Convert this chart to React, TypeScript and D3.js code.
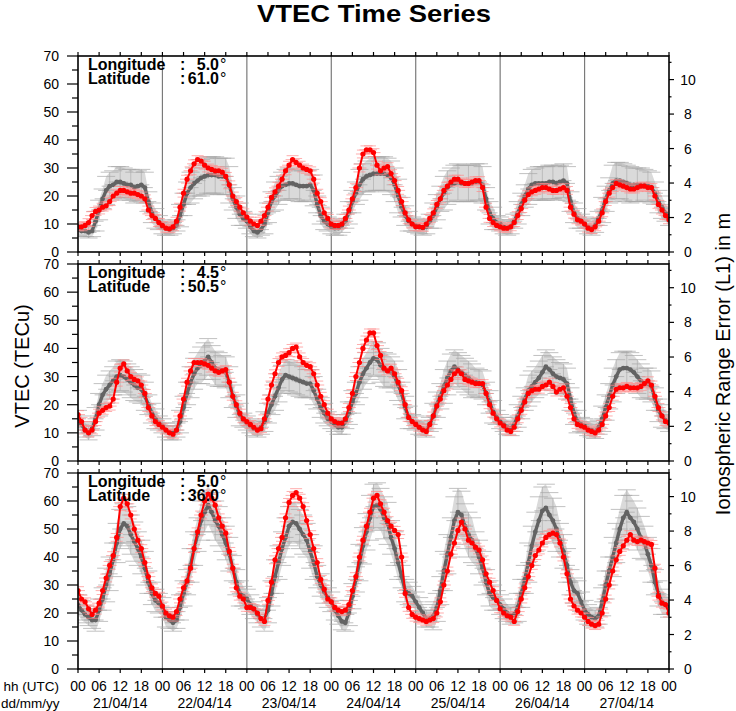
import React from "react";
import * as d3 from "d3";

// ---------- data (hourly, 21/04/14 00 UTC .. 28/04/14 00 UTC) ----------
const DAY_LABELS = ["21/04/14", "22/04/14", "23/04/14", "24/04/14", "25/04/14", "26/04/14", "27/04/14"];
const HOUR_LABELS = ["00", "06", "12", "18"];
const LONGITUDES = ["5.0", "4.5", "5.0"];
const LATITUDES = ["61.0", "50.5", "36.0"];
const LEFT_TICKS = [0, 10, 20, 30, 40, 50, 60, 70];
const RIGHT_TICKS = [0, 2, 4, 6, 8, 10];

// Panel 1 (lat 61.0) – gray: reference/median, red: actual
const G1 = [
  8, 7.5, 7.5, 7, 7.5, 11, 15, 19, 22, 23.5, 24, 25, 25, 24.5, 24, 24, 23, 23.5, 24, 23, 18, 14, 12, 10.5,
  9, 8.5, 8, 8.5, 9.5, 13, 17, 21, 23, 24.5, 25.5, 26.5, 27, 27.5, 27.5, 27.5, 27, 27, 27, 24, 19, 16, 13.5, 12,
  11, 9, 7.5, 7, 8, 10, 14, 18, 20, 22, 23.5, 24, 24.5, 24.5, 24, 23.5, 23.5, 23.5, 24, 22, 17, 13, 11, 10,
  9, 8.5, 8.5, 9.5, 11, 14, 18, 21, 24, 26, 27, 27.5, 28, 28, 28, 28, 27.5, 26.5, 24, 20, 16, 13, 11, 10,
  9.5, 9, 8.5, 9, 11, 13, 16, 19, 21, 23, 24, 24.5, 25, 24.5, 24.5, 24.5, 24.5, 25, 25, 24, 19, 14, 12, 10.5,
  10, 9, 8.5, 9, 11, 14, 17, 20, 22.5, 24, 24.5, 24.5, 24.5, 24.5, 25, 25, 24.5, 25, 25.5, 24.5, 18, 14, 12, 11,
  10, 9, 8.5, 9.5, 12, 15, 19, 22, 24.5, 25.5, 25.5, 25, 24.5, 24, 24, 24, 24, 24, 23.5, 23, 21, 18, 16, 14, 12.5,
];
const R1 = [
  9, 9, 9.5, 10.5, 13, 14.5, 15, 16, 16.5, 18, 20, 21, 22, 22, 21.5, 21, 21, 20.5, 20, 19, 15, 13, 12, 10.5,
  9.5, 8.5, 8.3, 9, 11, 16, 21, 26, 29, 31.5, 33, 32.5, 31, 30, 29.5, 29, 29, 28.5, 27, 24, 20, 18, 16, 14,
  12.5, 11, 10, 9.5, 11, 13, 16, 19.5, 21.5, 23.5, 26, 29, 31, 33, 32, 31, 30, 29.5, 29, 26, 21, 18, 14, 12,
  10, 9.5, 9.5, 10, 12, 15, 19, 23, 30, 35, 36.5, 36.5, 35.5, 31, 29, 30, 30.5, 28, 25.5, 22, 18, 14, 11.5, 10,
  9, 9, 8.8, 10, 12, 14, 17, 19, 22, 23.5, 25, 26, 26, 25, 24.5, 24.5, 25, 25.5, 25.5, 23, 16, 12, 10.5, 9.5,
  9, 8.5, 8.5, 9, 10.5, 13, 15.5, 18.5, 20.5, 21.5, 22, 22.5, 23, 23, 22.5, 22, 22, 22.5, 23, 22, 16, 13.5, 11.5, 11,
  10, 8.5, 8, 9, 11, 14, 18, 21, 23, 24.5, 24, 23.5, 23, 22.5, 22.5, 23, 23.5, 23.5, 23, 23, 20, 17, 15, 13, 11.5,
];
// gray error (1 sigma) every 3 hours
const E1 = [
  2, 2, 3.5, 5, 5.5, 5.5, 5.5, 3.5, 2.5, 2, 4, 5.5, 6.5, 6.5, 6.5, 4, 2.5, 2, 3.5, 5, 5.5, 5.5, 5.5, 3,
  2.5, 2.5, 4, 5.5, 6, 6, 6, 3.5, 2.5, 2.5, 4.5, 6, 6.5, 6.5, 6.5, 4, 2.5, 2.5, 4, 5.5, 6, 6, 6, 3.5,
  2.5, 2.5, 4.5, 6.5, 6.5, 6, 5.5, 4, 3,
];

// Panel 2 (lat 50.5)
const G2 = [
  15, 13, 11, 10, 11.5, 15, 20, 23.5, 25.5, 27, 28.5, 30, 30.5, 30, 29, 28, 27, 26, 25.5, 23, 20, 17, 15, 13.5,
  12.5, 11, 10, 10, 11, 14, 19, 24, 28, 31, 33, 34, 35.5, 37, 35, 33, 32.5, 32, 31.5, 28, 23, 19.5, 16.5, 14.5,
  13.5, 12.5, 11.5, 11, 12, 14, 17, 20, 23, 26, 29, 30.5, 30, 29.5, 29, 28.5, 28, 27.5, 27.5, 25, 22, 19, 17, 15,
  14, 13, 12, 12, 14, 17, 21, 24, 28, 31, 33, 35, 36.5, 36, 34, 32.5, 32, 31.5, 30, 27, 24, 19, 15.5, 14,
  13.5, 12, 11.5, 11, 13, 16, 20, 23, 26.5, 29.5, 32, 33.5, 32.5, 31.5, 30.5, 29.5, 28.5, 28, 27.5, 27, 24, 21, 17.5, 15.5,
  14, 13, 12, 11.5, 13, 16, 19, 22, 25, 26.5, 28, 29.5, 31.5, 33.5, 32.5, 31, 30, 29.5, 29, 27.5, 22, 17, 14, 13,
  12.5, 11.5, 11, 10.5, 12, 15, 19, 23, 27, 30, 32.5, 33, 33, 32.5, 31.5, 30, 28.5, 27.5, 27.5, 26.5, 22, 18, 16, 14.5, 13.5,
];
const R2 = [
  16.5, 14, 11, 10, 11, 14, 17, 18, 19, 19.5, 22, 28, 33, 34.5, 32, 30, 29, 28.5, 27, 24, 19, 16, 14, 13,
  12, 11, 10, 9.5, 11, 16, 22, 28, 32, 35, 35, 35, 34.5, 34, 33, 32, 31.5, 32, 32.5, 28, 23, 20, 17, 15,
  14, 13, 12, 11, 11.5, 15, 22, 27, 31, 35, 37, 37.5, 38.5, 40, 40.5, 37, 35, 34, 33.5, 31, 27, 23, 20, 17,
  15, 14, 13.5, 13.5, 15, 19, 24, 30, 35, 40, 43, 45.5, 45.5, 41, 37.5, 33, 32, 33, 31, 28, 25, 20, 15.5, 14,
  13, 12, 11, 10.5, 13, 16, 19.5, 22, 25, 27, 29, 31, 32, 31, 29, 28.5, 28, 27.5, 27.5, 27.5, 24, 20, 17, 15,
  13.5, 12.5, 11, 10.5, 12, 15, 18, 21, 24, 25, 25.5, 25.5, 26.5, 27, 28, 26.5, 24.5, 25.5, 26, 23, 19, 15, 13, 12.5,
  12, 11, 10.5, 10, 11, 13, 16, 19, 23, 25.5, 26, 26, 26.5, 26, 26, 26, 26.5, 27.5, 28.5, 27, 23, 19, 16, 14, 13.5,
];
const E2 = [
  3, 2.5, 4, 5, 5.5, 5.5, 5, 3.5, 2.5, 2.5, 4, 5.5, 6.5, 6, 5.5, 4, 2.5, 2.5, 3.5, 5, 5.5, 5.5, 5, 3.5,
  2.5, 2.5, 4, 5.5, 6, 6, 5.5, 4, 2.5, 2.5, 4.5, 6, 6, 6, 5, 4, 2.5, 2.5, 4, 5.5, 6, 6, 5.5, 4,
  2.5, 2.5, 4.5, 6, 6, 6, 5.5, 4, 3,
];

// Panel 3 (lat 36.0)
const G3 = [
  23, 21, 19.5, 18.5, 17.5, 17.5, 21, 25, 30, 34, 39, 45, 50, 52, 51, 48, 45.5, 43, 40, 36, 31, 27, 24.5, 23.5,
  22, 18.5, 17.5, 16.5, 17.5, 22, 27, 31, 37, 43, 48, 53, 56, 58.5, 56, 53, 51, 48, 45, 41, 36, 31, 27, 26,
  25, 23, 21, 19.5, 18, 18, 21, 27, 33, 38, 43, 47, 51, 52.5, 52, 50, 48, 46, 42, 38, 33, 30, 27.5, 25.5,
  24, 21, 19, 17, 16.5, 20, 26, 32, 38, 44, 49, 54, 58, 58.5, 57, 54, 52, 47, 43, 38, 33, 28, 27, 26,
  24, 22, 20, 18, 18, 19, 22, 28, 35, 41, 47, 53, 56, 55, 51, 48, 46, 43, 40, 36, 31, 27, 25.5, 24.5,
  23, 21.5, 20, 19, 19.5, 22, 27, 32, 38, 44, 49, 53, 56.5, 57.5, 55, 53, 50, 46, 42, 37, 31, 28, 27, 24,
  21, 19.5, 18.5, 18, 19, 24, 30, 35, 40, 45, 50, 54, 56, 54, 52.5, 50, 47, 45, 41, 37, 31, 27, 24, 23, 22,
];
const R3 = [
  28, 25, 24, 21.5, 19.5, 21, 23.5, 28, 32.5, 37, 40.5, 47, 58, 61, 59, 55, 50, 46, 43, 38, 33, 29, 27, 26,
  22.5, 20, 19, 18.5, 20.5, 25, 29, 31.5, 36, 43, 49, 55, 60, 62.5, 61, 58.5, 54, 51, 48.5, 42, 36, 29, 26, 25,
  22, 22, 21.5, 20, 18, 17, 24.5, 31, 39, 43, 47, 54, 59.5, 62, 63, 61, 58, 53, 48, 43, 38, 32, 28.5, 25,
  24, 22, 21, 20.5, 21, 23, 28, 33, 40, 46, 51, 56, 61, 62, 59, 56, 53, 51, 49.5, 48, 40, 27, 22, 19.5,
  18.5, 18, 17.5, 17, 17.5, 18, 20, 24, 30, 35, 41, 45, 49.5, 52.5, 50, 46, 45, 43.5, 42.5, 39, 34, 31, 28, 24.5,
  21.5, 20, 19, 18.5, 17, 20.5, 25, 29, 33, 37, 40.5, 42.5, 45, 47, 48, 48.5, 48, 45, 40, 34, 25, 22.5, 21, 20,
  18.5, 17, 16, 15.5, 16, 20, 25, 30, 35, 39, 42, 44, 46, 48, 46, 45.5, 46, 45.5, 45, 44.5, 36, 26, 23.5, 23, 20,
];
const E3 = [
  3.5, 3, 4, 6, 7, 7, 6, 4, 3.5, 3, 4.5, 6, 7, 7, 6, 4.5, 3.5, 3, 4.5, 6, 7, 7, 6, 4,
  3.5, 3, 4.5, 6.5, 8, 7.5, 6, 4, 3.5, 3, 5, 7, 8.5, 8, 6, 4.5, 3.5, 3, 5, 7, 8.5, 8, 6, 4.5,
  3.5, 3, 5, 7, 8, 7.5, 6, 4.5, 3.5,
];

const RED_ERR = 1.4; // TECU, size of the pink error marks
const TEC_TO_M = 0.1624; // L1 range error (m) per TECU
const VMAX = 70;

const FONT = "'Liberation Sans', Arial, Helvetica, sans-serif";

type Panel = {
  top: number;
  bottom: number;
  g: number[];
  r: number[];
  e: number[];
  lon: string;
  lat: string;
};

const PANELS: Panel[] = [
  { top: 56, bottom: 252, g: G1, r: R1, e: E1, lon: LONGITUDES[0], lat: LATITUDES[0] },
  { top: 264, bottom: 461, g: G2, r: R2, e: E2, lon: LONGITUDES[1], lat: LATITUDES[1] },
  { top: 473, bottom: 669, g: G3, r: R3, e: E3, lon: LONGITUDES[2], lat: LATITUDES[2] },
];

const X0 = 78;
const X1 = 669;

function PanelView({ p, idx }: { p: Panel; idx: number }) {
  const x = d3.scaleLinear().domain([0, 168]).range([X0, X1]);
  const y = d3.scaleLinear().domain([0, VMAX]).range([p.bottom, p.top]);
  const yr = d3.scaleLinear().domain([0, VMAX * TEC_TO_M]).range([p.bottom, p.top]);
  const err = (i: number) => p.e[Math.round(i / 3)];
  const pts = p.g.map((v, i) => ({ h: i, v, e: err(i) }));
  const rpts = p.r.map((v, i) => ({ h: i, v }));

  const band = d3
    .area<{ h: number; v: number; e: number }>()
    .x((d) => x(d.h))
    .y0((d) => y(d.v - d.e))
    .y1((d) => y(d.v + d.e));
  const gline = d3
    .line<{ h: number; v: number }>()
    .x((d) => x(d.h))
    .y((d) => y(d.v));

  const clipId = `clip${idx}`;
  const sixHours = d3.range(0, 169, 6);
  const leftMinor = d3.range(0, 71, 5);
  const rightMinor = d3.range(0, 12, 1).filter((v) => v <= VMAX * TEC_TO_M);

  return (
    <g>
      <defs>
        <clipPath id={clipId}>
          <rect x={X0} y={p.top} width={X1 - X0} height={p.bottom - p.top} />
        </clipPath>
      </defs>
      <rect x={X0} y={p.top} width={X1 - X0} height={p.bottom - p.top} fill="#fff" />
      <g clipPath={`url(#${clipId})`}>
        {/* day separators */}
        {d3.range(24, 168, 24).map((h) => (
          <line key={h} x1={x(h)} x2={x(h)} y1={p.top} y2={p.bottom} stroke="#7a7a7a" strokeWidth={1.2} />
        ))}
        {/* gray error band */}
        <path d={band(pts) || ""} fill="#dadada" />
        {pts
          .filter((d) => d.h % 3 === 0)
          .map((d) => (
            <line key={"v" + d.h} x1={x(d.h)} x2={x(d.h)} y1={y(d.v - d.e)} y2={y(d.v + d.e)} stroke="#b4b4b4" strokeWidth={0.8} />
          ))}
        {pts.map((d) => (
          <g key={"c" + d.h} stroke="#a8a8a8" strokeWidth={1} opacity={0.7}>
            <line x1={x(d.h) - 9} x2={x(d.h) + 9} y1={y(d.v - d.e)} y2={y(d.v - d.e)} />
            <line x1={x(d.h) - 9} x2={x(d.h) + 9} y1={y(d.v + d.e)} y2={y(d.v + d.e)} />
            <line x1={x(d.h) - 8} x2={x(d.h) + 8} y1={y(d.v)} y2={y(d.v)} />
          </g>
        ))}
        {/* gray series */}
        <path d={gline(pts) || ""} fill="none" stroke="#636363" strokeWidth={3.4} strokeLinejoin="round" />
        {pts.map((d) => (
          <circle key={"g" + d.h} cx={x(d.h)} cy={y(d.v)} r={2.4} fill="#636363" />
        ))}
        {/* red error marks */}
        {rpts.map((d) => (
          <g key={"re" + d.h} stroke="#ff8c8c" strokeWidth={1} opacity={0.7}>
            <line x1={x(d.h) - 6} x2={x(d.h) + 6} y1={y(d.v - RED_ERR)} y2={y(d.v - RED_ERR)} />
            <line x1={x(d.h) - 6} x2={x(d.h) + 6} y1={y(d.v + RED_ERR)} y2={y(d.v + RED_ERR)} />
            <line x1={x(d.h) - 7} x2={x(d.h) + 7} y1={y(d.v)} y2={y(d.v)} />
          </g>
        ))}
        {/* red series */}
        <path d={gline(rpts) || ""} fill="none" stroke="#ff0000" strokeWidth={2} strokeLinejoin="round" />
        {rpts.map((d) => (
          <circle key={"r" + d.h} cx={x(d.h)} cy={y(d.v)} r={2.6} fill="#ff0000" />
        ))}
      </g>
      {/* frame */}
      <rect x={X0} y={p.top} width={X1 - X0} height={p.bottom - p.top} fill="none" stroke="#000" strokeWidth={1.6} />
      {/* x ticks (top and bottom, outward) */}
      {sixHours.map((h) => (
        <g key={"xt" + h} stroke="#000" strokeWidth={1.2}>
          <line x1={x(h)} x2={x(h)} y1={p.top} y2={p.top - 4} />
          <line x1={x(h)} x2={x(h)} y1={p.bottom} y2={p.bottom + 4} />
        </g>
      ))}
      {/* left axis */}
      {leftMinor.map((v) => (
        <line
          key={"lt" + v}
          x1={X0}
          x2={v % 10 === 0 ? X0 - 11 : X0 - 6}
          y1={y(v)}
          y2={y(v)}
          stroke="#000"
          strokeWidth={1.2}
        />
      ))}
      {LEFT_TICKS.map((v) => (
        <text key={"ll" + v} x={59} y={y(v) + 5} textAnchor="end" fontSize={14} fontFamily={FONT} fill="#000">
          {v}
        </text>
      ))}
      {/* right axis */}
      {rightMinor.map((v) => (
        <line
          key={"rt" + v}
          x1={X1}
          x2={v % 2 === 0 ? X1 + 5 : X1 + 2.5}
          y1={yr(v)}
          y2={yr(v)}
          stroke="#000"
          strokeWidth={1.2}
        />
      ))}
      {RIGHT_TICKS.map((v) => (
        <text key={"rl" + v} x={688} y={yr(v) + 5} textAnchor="middle" fontSize={14} fontFamily={FONT} fill="#000">
          {v}
        </text>
      ))}
      {/* location legend */}
      <g fontFamily={FONT} fontSize={16} fontWeight="bold" fill="#000">
        <text x={88} y={p.top + 13.5}>Longitude</text>
        <text x={88} y={p.top + 27.5}>Latitude</text>
        <text x={180} y={p.top + 13.5}>:</text>
        <text x={180} y={p.top + 27.5}>:</text>
        <text x={219} y={p.top + 13.5} textAnchor="end">{p.lon}</text>
        <text x={219} y={p.top + 27.5} textAnchor="end">{p.lat}</text>
        <text x={220} y={p.top + 13.5} fontWeight="normal">°</text>
        <text x={220} y={p.top + 27.5} fontWeight="normal">°</text>
      </g>
    </g>
  );
}

export default function App() {
  const x = d3.scaleLinear().domain([0, 168]).range([X0, X1]);
  const sixHours = d3.range(0, 169, 6);
  return (
    <svg
      width={736}
      height={711}
      viewBox="0 0 736 711"
      style={{ position: "absolute", left: 0, top: 0, display: "block", background: "#fff" }}
      fontFamily={FONT}
    >
      <rect x={0} y={0} width={736} height={711} fill="#fff" />
      <text
        x={374}
        y={22}
        textAnchor="middle"
        fontSize={24}
        fontWeight="bold"
        fill="#000"
        textLength={234}
        lengthAdjust="spacingAndGlyphs"
      >
        VTEC Time Series
      </text>
      {PANELS.map((p, i) => (
        <PanelView key={i} p={p} idx={i} />
      ))}
      {/* bottom time axis labels */}
      {sixHours.map((h) => (
        <text key={"hl" + h} x={x(h)} y={691} textAnchor="middle" fontSize={14} fill="#000">
          {HOUR_LABELS[(h / 6) % 4]}
        </text>
      ))}
      {DAY_LABELS.map((d, i) => (
        <text key={d} x={x(i * 24 + 12)} y={708} textAnchor="middle" fontSize={14} fill="#000">
          {d}
        </text>
      ))}
      <text x={59} y={691} textAnchor="end" fontSize={13.5} fill="#000">hh (UTC)</text>
      <text x={59.5} y={708} textAnchor="end" fontSize={13.5} fill="#000">dd/mm/yy</text>
      {/* axis titles */}
      <text transform="translate(29,366) rotate(-90)" textAnchor="middle" fontSize={20} fill="#000">
        VTEC (TECu)
      </text>
      <text transform="translate(730,364) rotate(-90)" textAnchor="middle" fontSize={20} fill="#000">
        Ionospheric Range Error (L1) in m
      </text>
    </svg>
  );
}
